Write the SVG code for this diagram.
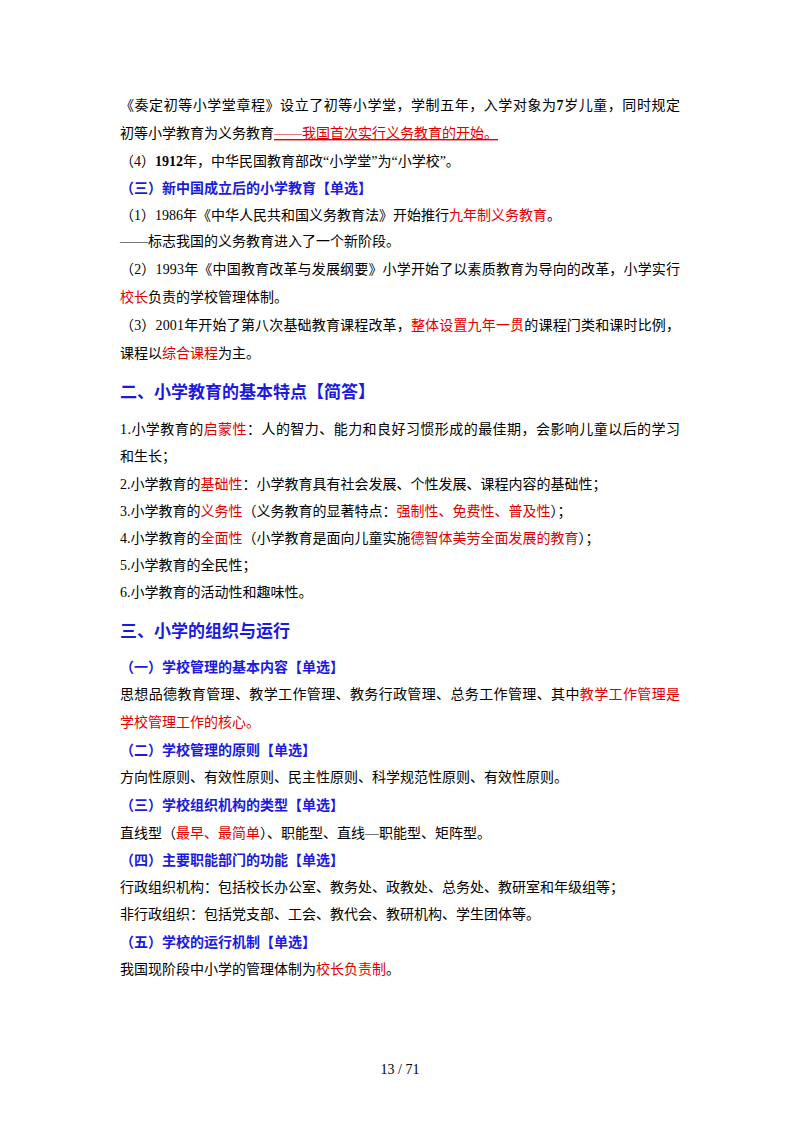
<svg xmlns="http://www.w3.org/2000/svg" width="800" height="1132" viewBox="0 0 800 1132">
<style>
text{font-family:"Liberation Serif","Noto Sans CJK SC",serif;font-size:14px;fill:#000}
.r{fill:#e00000}
.b{fill:#1a1adf;font-weight:bold}
.h{fill:#1a1adf;font-weight:bold;font-size:17px}
</style>
<rect width="800" height="1132" fill="#fff"/>
<text x="120" y="110" textLength="560">《奏定初等小学堂章程》设立了初等小学堂，学制五年，入学对象为<tspan font-weight="bold">7</tspan>岁儿童，同时规定</text>
<text x="120" y="138">初等小学教育为义务教育<tspan class="r" text-decoration="underline">——我国首次实行义务教育的开始。</tspan></text>
<text x="120" y="166">（4）<tspan font-weight="bold">1912</tspan>年，中华民国教育部改“小学堂”为“小学校”。</text>
<text x="120" y="193" class="b">（三）新中国成立后的小学教育【单选】</text>
<text x="120" y="220">（1）1986年《中华人民共和国义务教育法》开始推行<tspan class="r">九年制义务教育</tspan>。</text>
<text x="120" y="246">——标志我国的义务教育进入了一个新阶段。</text>
<text x="120" y="274" textLength="560">（2）1993年《中国教育改革与发展纲要》小学开始了以素质教育为导向的改革，小学实行</text>
<text x="120" y="302"><tspan class="r">校长</tspan>负责的学校管理体制。</text>
<text x="120" y="330" textLength="560">（3）2001年开始了第八次基础教育课程改革，<tspan class="r">整体设置九年一贯</tspan>的课程门类和课时比例，</text>
<text x="120" y="358">课程以<tspan class="r">综合课程</tspan>为主。</text>
<text x="120" y="398" class="h">二、小学教育的基本特点【简答】</text>
<text x="120" y="434" textLength="560">1.小学教育的<tspan class="r">启蒙性</tspan>：人的智力、能力和良好习惯形成的最佳期，会影响儿童以后的学习</text>
<text x="120" y="461">和生长；</text>
<text x="120" y="489">2.小学教育的<tspan class="r">基础性</tspan>：小学教育具有社会发展、个性发展、课程内容的基础性；</text>
<text x="120" y="516">3.小学教育的<tspan class="r">义务性</tspan>（义务教育的显著特点：<tspan class="r">强制性、免费性、普及性</tspan>）；</text>
<text x="120" y="543">4.小学教育的<tspan class="r">全面性</tspan>（小学教育是面向儿童实施<tspan class="r">德智体美劳全面发展的教育</tspan>）；</text>
<text x="120" y="570">5.小学教育的全民性；</text>
<text x="120" y="597">6.小学教育的活动性和趣味性。</text>
<text x="120" y="637" class="h">三、小学的组织与运行</text>
<text x="120" y="672" class="b">（一）学校管理的基本内容【单选】</text>
<text x="120" y="699" textLength="560">思想品德教育管理、教学工作管理、教务行政管理、总务工作管理、其中<tspan class="r">教学工作管理是</tspan></text>
<text x="120" y="727" class="r">学校管理工作的核心。</text>
<text x="120" y="755" class="b">（二）学校管理的原则【单选】</text>
<text x="120" y="782">方向性原则、有效性原则、民主性原则、科学规范性原则、有效性原则。</text>
<text x="120" y="810" class="b">（三）学校组织机构的类型【单选】</text>
<text x="120" y="838">直线型（<tspan class="r">最早、最简单</tspan>）、职能型、直线—职能型、矩阵型。</text>
<text x="120" y="865" class="b">（四）主要职能部门的功能【单选】</text>
<text x="120" y="892">行政组织机构：包括校长办公室、教务处、政教处、总务处、教研室和年级组等；</text>
<text x="120" y="919">非行政组织：包括党支部、工会、教代会、教研机构、学生团体等。</text>
<text x="120" y="947" class="b">（五）学校的运行机制【单选】</text>
<text x="120" y="974">我国现阶段中小学的管理体制为<tspan class="r">校长负责制</tspan>。</text>
<text x="400" y="1074" text-anchor="middle" font-size="12">13 / 71</text>
</svg>
